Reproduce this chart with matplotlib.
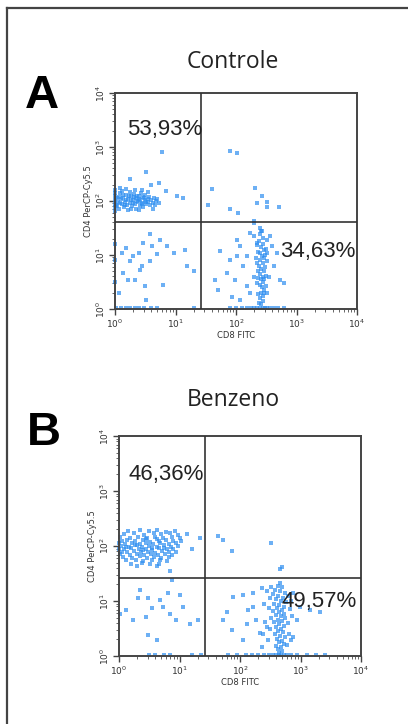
import numpy as np
import matplotlib.pyplot as plt
from matplotlib.lines import Line2D

# events, in decades (log10 of CD8 FITC, log10 of CD4 PerCP-Cy5.5)
ctrl_events = [
    # CD4+ cluster
    (0.00, 1.95), (0.00, 2.02), (0.00, 2.10), (0.00, 1.88), (0.00, 2.15), (0.00, 1.82), (0.00, 2.20),
    (0.05, 1.98), (0.06, 2.08), (0.04, 1.90), (0.08, 2.14), (0.07, 1.85), (0.10, 2.03), (0.12, 1.94),
    (0.11, 2.19), (0.14, 2.06), (0.15, 1.88), (0.17, 1.99), (0.18, 2.12), (0.20, 1.92), (0.21, 2.04),
    (0.22, 1.84), (0.24, 2.17), (0.25, 1.97), (0.27, 2.09), (0.28, 1.90), (0.30, 2.01), (0.31, 2.13),
    (0.33, 1.95), (0.34, 2.06), (0.35, 1.86), (0.37, 2.10), (0.38, 1.99), (0.40, 2.03), (0.41, 1.91),
    (0.43, 2.15), (0.44, 1.97), (0.46, 2.07), (0.47, 1.88), (0.49, 2.01), (0.50, 2.11), (0.52, 1.94),
    (0.54, 2.04), (0.55, 1.99), (0.57, 2.08), (0.58, 1.92), (0.60, 2.02), (0.62, 1.97), (0.64, 2.05),
    (0.66, 1.93), (0.68, 2.00), (0.70, 2.03), (0.72, 1.96), (0.09, 1.96), (0.13, 2.11), (0.16, 1.93),
    (0.19, 2.01), (0.23, 2.09), (0.26, 2.02), (0.29, 1.96), (0.32, 2.07), (0.36, 2.00), (0.39, 2.09),
    (0.42, 2.02), (0.45, 1.94), (0.48, 2.05), (0.51, 1.99), (0.03, 2.05), (0.02, 1.93), (0.26, 1.86),
    (0.40, 1.84), (0.18, 2.22), (0.33, 2.21), (0.55, 2.17), (0.62, 1.86), (0.08, 2.24), (0.45, 2.20),
    (0.77, 2.90), (0.52, 2.53), (0.72, 2.33), (1.02, 2.09), (1.13, 2.06), (0.60, 2.30), (0.85, 2.18),
    (0.25, 2.40),
    # double positive, sparse
    (1.90, 2.93), (2.01, 2.89), (1.60, 2.22), (1.54, 1.93), (1.90, 1.85), (2.04, 1.78), (2.32, 2.24),
    (2.43, 2.10), (2.34, 1.96), (2.51, 1.99), (2.51, 1.88), (2.71, 1.88), (2.29, 1.63),
    # double negative
    (0.58, 1.38), (0.47, 1.22), (0.39, 1.04), (0.11, 1.04), (0.25, 0.88), (0.44, 0.79), (0.69, 1.01),
    (0.74, 1.28), (0.97, 1.04), (1.16, 1.10), (1.19, 0.79), (1.30, 0.70), (0.22, 0.54), (0.33, 0.54),
    (0.50, 0.42), (0.80, 0.45), (0.14, 0.67), (0.06, 0.30), (0.52, 0.17), (0.41, 0.73), (0.58, 0.88),
    (0.30, 0.98), (0.19, 1.13), (0.86, 1.16), (0.61, 1.16), (0.00, 0.50), (0.00, 0.90), (0.00, 1.20),
    (0.02, 0.02), (0.10, 0.02), (0.18, 0.02), (0.25, 0.02), (0.33, 0.02), (0.40, 0.02), (0.48, 0.02),
    (0.60, 0.02), (0.70, 0.02), (1.30, 0.02),
    # CD8+ population
    (2.42, 1.45), (2.40, 1.38), (2.45, 1.32), (2.38, 1.26), (2.44, 1.20), (2.41, 1.14), (2.47, 1.09),
    (2.39, 1.04), (2.43, 0.99), (2.46, 0.94), (2.40, 0.90), (2.44, 0.85), (2.38, 0.80), (2.42, 0.75),
    (2.46, 0.70), (2.40, 0.65), (2.44, 0.60), (2.41, 0.55), (2.45, 0.50), (2.39, 0.45), (2.43, 0.40),
    (2.47, 0.35), (2.41, 0.30), (2.44, 0.25), (2.40, 0.20), (2.45, 0.15), (2.42, 0.10), (2.35, 1.18),
    (2.50, 1.12), (2.33, 0.95), (2.52, 0.88), (2.36, 0.70), (2.50, 0.62), (2.34, 0.48), (2.49, 0.42),
    (2.37, 0.28), (2.51, 1.28), (2.30, 1.35), (2.48, 1.00), (2.36, 1.05), (2.48, 0.78), (2.35, 0.85),
    (2.46, 0.55), (2.37, 0.58), (2.46, 0.30), (2.38, 0.12),
    (1.66, 0.54), (1.74, 1.07), (1.90, 0.91), (2.01, 1.28), (2.12, 0.79), (2.18, 0.42), (1.71, 0.36),
    (1.85, 0.67), (2.07, 1.16), (2.23, 1.41), (2.29, 1.59), (2.57, 1.35), (2.68, 1.04), (2.73, 0.54),
    (2.62, 0.79), (2.79, 0.48), (2.51, 0.30), (2.43, 1.44), (2.40, 1.50), (1.99, 0.54), (2.01, 0.98),
    (2.18, 0.98), (2.29, 0.60), (1.93, 0.23), (2.59, 1.16), (2.34, 1.22), (2.51, 1.04), (2.54, 0.60),
    (2.23, 0.30), (2.07, 0.17),
    (1.90, 0.02), (2.00, 0.02), (2.10, 0.02), (2.18, 0.02), (2.25, 0.02), (2.30, 0.02), (2.35, 0.02),
    (2.40, 0.02), (2.44, 0.02), (2.48, 0.02), (2.52, 0.02), (2.56, 0.02), (2.62, 0.02), (2.70, 0.02),
    (2.80, 0.02),
]

benz_events = [
    # CD4+ cluster
    (0.15, 2.28), (0.35, 2.30), (0.50, 2.27), (0.62, 2.29), (0.78, 2.26), (0.92, 2.28),
    (0.08, 2.21), (0.25, 2.23), (0.42, 2.20), (0.58, 2.24), (0.70, 2.21), (0.85, 2.23), (0.98, 2.20),
    (0.02, 2.16), (0.18, 2.14), (0.32, 2.17), (0.47, 2.15), (0.60, 2.17), (0.73, 2.14), (0.88, 2.16),
    (1.00, 2.15), (0.05, 2.10), (0.14, 2.11), (0.27, 2.09), (0.40, 2.11), (0.52, 2.08), (0.66, 2.10),
    (0.78, 2.11), (0.90, 2.09), (1.03, 2.10), (0.00, 2.05), (0.10, 2.04), (0.22, 2.06), (0.35, 2.04),
    (0.45, 2.05), (0.57, 2.03), (0.68, 2.06), (0.82, 2.04), (0.94, 2.05), (0.03, 2.00), (0.16, 1.99),
    (0.29, 2.01), (0.38, 1.99), (0.50, 2.00), (0.62, 1.98), (0.74, 2.01), (0.86, 1.99), (0.97, 2.00),
    (0.00, 1.95), (0.08, 1.94), (0.20, 1.96), (0.33, 1.94), (0.44, 1.95), (0.55, 1.93), (0.66, 1.96),
    (0.79, 1.94), (0.90, 1.95), (0.05, 1.90), (0.13, 1.89), (0.25, 1.91), (0.37, 1.89), (0.48, 1.90),
    (0.59, 1.88), (0.71, 1.91), (0.83, 1.89), (0.95, 1.90), (0.01, 1.85), (0.18, 1.84), (0.30, 1.86),
    (0.42, 1.84), (0.53, 1.85), (0.64, 1.83), (0.76, 1.86), (0.88, 1.84), (0.07, 1.80), (0.22, 1.79),
    (0.35, 1.81), (0.47, 1.79), (0.58, 1.80), (0.70, 1.78), (0.82, 1.80), (0.12, 1.74), (0.28, 1.75),
    (0.40, 1.73), (0.55, 1.75), (0.68, 1.74), (0.80, 1.73), (0.20, 1.68), (0.38, 1.69), (0.52, 1.67),
    (0.66, 1.68), (0.30, 1.63), (0.62, 1.63),
    (0.27, 2.02), (0.54, 1.97), (0.40, 1.92), (0.63, 2.12), (0.12, 1.98), (0.75, 1.97), (0.45, 2.13),
    (1.34, 2.14), (1.20, 1.95), (1.12, 2.22), (0.85, 1.55),
    # double positive, sparse
    (1.64, 2.18), (1.72, 2.11), (1.86, 1.91), (2.52, 2.06), (2.69, 1.62),
    # double negative
    (0.31, 1.05), (0.48, 1.05), (1.00, 1.11), (0.81, 1.14), (0.54, 0.87), (0.45, 0.71), (0.48, 0.38),
    (0.62, 0.29), (0.84, 0.77), (0.95, 0.65), (1.17, 0.59), (1.31, 0.65), (0.12, 0.84), (0.01, 0.77),
    (0.73, 0.90), (1.06, 0.90), (0.87, 1.38), (0.34, 1.20), (0.67, 1.02), (0.23, 0.65),
    (0.50, 0.02), (0.60, 0.02), (0.75, 0.02), (0.85, 0.02), (1.20, 0.02), (1.35, 0.02),
    # CD8+ population
    (2.62, 1.28), (2.70, 1.25), (2.58, 1.20), (2.66, 1.18), (2.74, 1.15), (2.55, 1.12), (2.63, 1.10),
    (2.71, 1.06), (2.60, 1.03), (2.68, 1.00), (2.76, 0.98), (2.57, 0.95), (2.65, 0.93), (2.72, 0.90),
    (2.61, 0.87), (2.69, 0.84), (2.54, 0.82), (2.64, 0.80), (2.73, 0.77), (2.59, 0.74), (2.67, 0.72),
    (2.75, 0.69), (2.62, 0.66), (2.70, 0.63), (2.56, 0.61), (2.65, 0.58), (2.73, 0.55), (2.60, 0.52),
    (2.68, 0.49), (2.63, 0.46), (2.71, 0.43), (2.58, 0.40), (2.66, 0.37), (2.74, 0.34), (2.61, 0.31),
    (2.69, 0.28), (2.64, 0.25), (2.72, 0.22), (2.59, 0.19), (2.67, 0.16), (2.62, 0.12), (2.70, 0.09),
    (2.65, 0.05), (2.50, 1.05), (2.48, 0.88), (2.52, 0.70), (2.50, 0.50), (2.46, 0.30), (2.80, 1.10),
    (2.82, 0.85), (2.79, 0.60), (2.81, 0.40), (2.78, 0.20), (2.44, 1.18), (2.85, 1.00), (2.40, 0.95),
    (2.42, 0.62), (2.86, 0.72), (2.38, 0.40), (2.84, 0.30),
    (1.72, 0.65), (1.78, 0.80), (1.89, 1.08), (2.05, 1.11), (1.86, 0.47), (2.05, 0.29), (2.22, 0.90),
    (2.27, 0.65), (2.36, 0.17), (2.36, 1.23), (2.52, 1.26), (2.66, 1.32), (2.88, 1.14), (2.99, 0.90),
    (3.16, 0.84), (3.32, 0.80), (2.94, 0.65), (2.88, 0.35), (2.22, 1.14), (2.14, 0.84), (2.66, 1.59),
    (2.44, 0.53), (2.33, 0.41), (2.11, 0.59),
    (1.80, 0.02), (1.95, 0.02), (2.10, 0.02), (2.20, 0.02), (2.30, 0.02), (2.40, 0.02), (2.48, 0.02),
    (2.55, 0.02), (2.60, 0.02), (2.64, 0.02), (2.68, 0.02), (2.72, 0.02), (2.78, 0.02), (2.85, 0.02),
    (2.95, 0.02), (3.10, 0.02), (3.25, 0.02), (3.40, 0.02),
]

titles = ["Controle", "Benzeno"]
panel_letters = ["A", "B"]
gates = [(1.42, 1.61), (1.42, 1.42)]  # quadrant gate, decades
quadrant_pcts = [("53,93%", "34,63%"), ("46,36%", "49,57%")]
decades = [0, 1, 2, 3, 4]

W, H = 408, 724
fig = plt.figure(figsize=(W / 100, H / 100), dpi=100)

# frame of the original figure (only top and left edges visible)
fig.add_artist(Line2D([7 / W, 1], [1 - 8 / H, 1 - 8 / H], color='#444444', lw=1.6))
fig.add_artist(Line2D([7 / W, 7 / W], [1 - 8 / H, 0], color='#444444', lw=1.6))

# axes boxes in pixels: left, top, right, bottom
boxes = [(115, 93, 357, 309), (119, 436, 361, 656)]
title_y = [62, 400]
letter_pos = [(25, 108), (27, 445)]
pct_pos = [((0.20, 3.22), (2.73, 0.96)), ((0.15, 3.20), (2.69, 0.89))]

for i, events in enumerate([ctrl_events, benz_events]):
    l, t, r, b = boxes[i]
    ax = fig.add_axes([l / W, 1 - b / H, (r - l) / W, (b - t) / H])
    pts = np.array(events)
    ax.scatter(10 ** pts[:, 0], 10 ** pts[:, 1], s=7, marker='s', color='#2f8ff0',
               alpha=0.7, linewidths=0, clip_on=False, zorder=2)
    ax.set_xscale('log')
    ax.set_yscale('log')
    ax.set_xlim(1, 1e4)
    ax.set_ylim(1, 1e4)

    gx, gy = gates[i]
    ax.axvline(10 ** gx, color='#333333', lw=1.2, zorder=3)
    ax.axhline(10 ** gy, color='#333333', lw=1.2, zorder=3)

    for s in ax.spines.values():
        s.set_color('#444444')
        s.set_linewidth(1.4)

    ticks = [10.0 ** d for d in decades]
    labels = [r'$10^{%d}$' % d for d in decades]
    ax.set_xticks(ticks)
    ax.set_xticklabels(labels)
    ax.set_yticks(ticks)
    ax.set_yticklabels(labels, rotation=90, va='center')
    ax.tick_params(which='major', length=4, width=1, color='#444444', labelsize=6.5,
                   labelcolor='#333333', pad=2)
    ax.tick_params(which='minor', length=2, width=0.7, color='#666666')
    ax.set_xlabel('CD8 FITC', fontsize=6, color='#333333', labelpad=1)
    ax.set_ylabel('CD4 PerCP-Cy5.5', fontsize=6, color='#333333', labelpad=1)

    (ulx, uly), (lrx, lry) = pct_pos[i]
    ax.text(10 ** ulx, 10 ** uly, quadrant_pcts[i][0], fontsize=16,
            family='Liberation Sans', color='#222222', va='baseline', zorder=4)
    ax.text(10 ** lrx, 10 ** lry, quadrant_pcts[i][1], fontsize=16,
            family='Liberation Sans', color='#222222', va='baseline', zorder=4,
            clip_on=False)

    fig.text(233 / W, 1 - title_y[i] / H, titles[i], fontsize=16.5, family='Open Sans',
             color='#222222', ha='center', va='center')
    lx, ly = letter_pos[i]
    fig.text(lx / W, 1 - ly / H, panel_letters[i], fontsize=34, fontweight='bold',
             family='Liberation Sans', color='black', ha='left', va='baseline')

fig.savefig('out.png', dpi=100)
